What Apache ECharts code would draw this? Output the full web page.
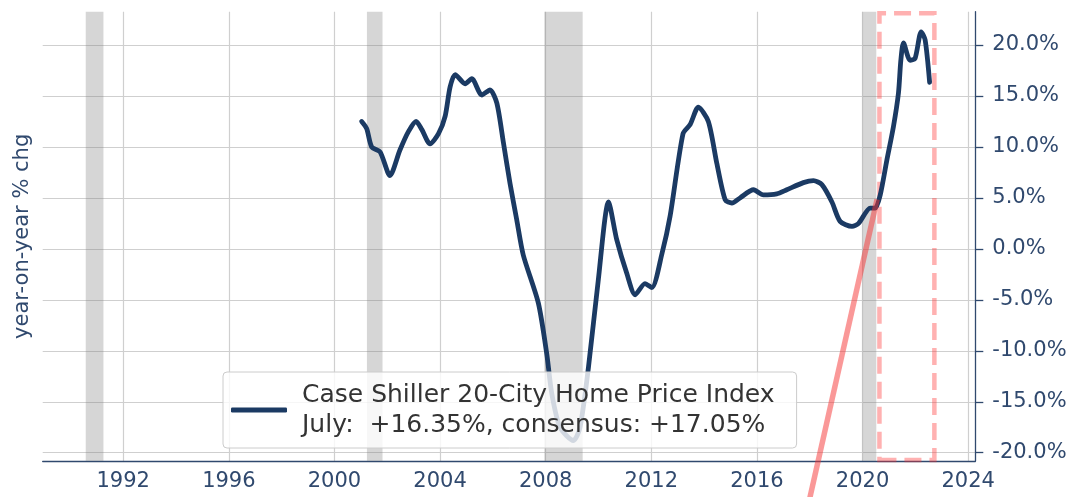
<!DOCTYPE html>
<html>
<head>
<meta charset="utf-8">
<script src="https://cdn.jsdelivr.net/npm/echarts@6/dist/echarts.min.js"></script>
<style>
  html, body { margin: 0; padding: 0; background: #fff; }
  #main { width: 1075px; height: 497px; }
</style>
</head>
<body>
<div id="main"></div>
<script>
// Case Shiller 20-city, yoy % chg
var years = [2001.03, 2001.22, 2001.41, 2001.73, 2002.10, 2002.48, 2002.80, 2003.09, 2003.31, 2003.62,
    2003.94, 2004.19, 2004.38, 2004.57, 2004.95, 2005.20, 2005.58, 2005.89, 2006.15, 2006.40,
    2006.65, 2006.90, 2007.15, 2007.72, 2008.04, 2008.23, 2008.54, 2009.05, 2009.30, 2009.62,
    2009.99, 2010.38, 2010.69, 2011.07, 2011.39, 2011.76, 2012.02, 2012.40, 2012.71, 2013.20,
    2013.47, 2013.78, 2014.16, 2014.48, 2014.80, 2015.05, 2015.36, 2015.87, 2016.24, 2016.75,
    2017.13, 2017.76, 2018.14, 2018.46, 2018.84, 2019.15, 2019.60, 2019.85, 2020.29, 2020.48,
    2020.67, 2020.92, 2021.17, 2021.36, 2021.45, 2021.55, 2021.80, 2021.99, 2022.22, 2022.37,
    2022.54];
var values = [12.5, 11.8, 10.0, 9.5, 7.2, 9.7, 11.5, 12.5, 11.7, 10.3,
    11.3, 13.0, 15.9, 17.1, 16.2, 16.7, 15.1, 15.6, 14.3, 10.4,
    6.4, 2.9, -0.6, -5.3, -10.3, -14.2, -17.5, -18.8, -17.5, -11.6,
    -3.1, 4.6, 0.9, -2.4, -4.5, -3.4, -3.8, -0.5, 3.2, 11.3,
    12.2, 13.9, 12.5, 8.4, 4.8, 4.5, 5.0, 5.8, 5.3, 5.4,
    5.8, 6.5, 6.7, 6.3, 4.6, 2.7, 2.2, 2.5, 4.0, 4.0,
    5.3, 8.7, 12.0, 15.3, 18.5, 20.2, 18.5, 18.7, 21.3, 20.5,
    16.35];

// recessions (start, end)
var recessions = [[1990.58, 1991.25], [2001.23, 2001.82], [2007.95, 2009.40], [2020.0, 2020.52]];

// highlight box and trend line
var boxX = [2020.64, 2022.72];
var boxY = [-20.72, 23.11];
var trendX = [2017.78, 2020.55];
var trendY = [-27, 4.86];

var xTicks = [1992, 1996, 2000, 2004, 2008, 2012, 2016, 2020, 2024];
var yTicks = [-20, -15, -10, -5, 0, 5, 10, 15, 20];

var seriesName = 'Case Shiller 20-City Home Price Index';
var subLine = 'July:  +16.35%, consensus: +17.05%';

var navy = '#1b3a63';
var axisColor = '#30496e';
var gridColor = '#cfcfcf';
var font = 'DejaVu Sans';

var myChart = echarts.init(document.getElementById('main'));

var lineData = years.map(function (y, i) { return [y, values[i]]; });
var trendData = trendX.map(function (x, i) { return [x, trendY[i]]; });

option = {
    animation: false,
    backgroundColor: '#fff',
    grid: { left: 42.7, right: 99.7, top: 11.7, bottom: 36 },
    legend: {
        data: [seriesName],
        left: 223,
        top: 372,
        orient: 'vertical',
        icon: 'roundRect',
        itemWidth: 56,
        itemHeight: 5,
        padding: [8, 22, 8, 8],
        backgroundColor: 'rgba(255,255,255,0.8)',
        borderColor: '#cccccc',
        borderWidth: 1,
        borderRadius: 4,
        formatter: function (name) { return name + '\n' + subLine; },
        textStyle: {
            fontFamily: font,
            fontSize: 25,
            lineHeight: 30,
            color: '#333',
            padding: [0, 0, 0, 10]
        }
    },
    xAxis: {
        type: 'value',
        min: 1988.95,
        max: 2024.27,
        axisLine: { show: true, onZero: false, lineStyle: { color: axisColor, width: 1.3 } },
        axisTick: { show: false, customValues: xTicks },
        axisLabel: {
            customValues: xTicks,
            color: axisColor,
            fontFamily: font,
            fontSize: 21,
            margin: 10,
            formatter: function (v) { return String(v); }
        },
        splitLine: { show: true, lineStyle: { color: gridColor, width: 1.2 } }
    },
    yAxis: [{
        type: 'value',
        position: 'right',
        min: -20.81,
        max: 23.27,
        axisLine: { show: true, lineStyle: { color: axisColor, width: 1.3 } },
        axisTick: { show: true, customValues: yTicks, length: 8, lineStyle: { color: axisColor, width: 1.3 } },
        axisLabel: {
            customValues: yTicks,
            color: axisColor,
            fontFamily: font,
            fontSize: 21,
            margin: 17,
            formatter: function (v) { return v.toFixed(1) + '%'; }
        },
        splitLine: { show: true, lineStyle: { color: gridColor, width: 1.2 } }
    }, {
        type: 'value',
        position: 'left',
        min: -20.81,
        max: 23.27,
        name: 'year-on-year % chg',
        nameLocation: 'middle',
        nameGap: 10,
        nameTextStyle: { color: axisColor, fontFamily: font, fontSize: 21 },
        axisLine: { show: false },
        axisTick: { show: false },
        axisLabel: { show: false },
        splitLine: { show: false }
    }],
    series: [
        {
            name: 'recessions',
            type: 'line',
            data: [],
            z: 1,
            silent: true,
            markArea: {
                silent: true,
                itemStyle: { color: 'rgba(128,128,128,0.32)' },
                data: recessions.map(function (r) { return [{ xAxis: r[0] }, { xAxis: r[1] }]; })
            }
        },
        {
            name: seriesName,
            type: 'line',
            data: lineData,
            z: 3,
            smooth: 0.25,
            showSymbol: false,
            itemStyle: { color: navy },
            lineStyle: { color: navy, width: 4.8, cap: 'round', join: 'round' }
        },
        {
            name: 'box',
            type: 'line',
            data: [],
            z: 4,
            silent: true,
            markArea: {
                silent: true,
                itemStyle: {
                    color: 'rgba(0,0,0,0)',
                    borderColor: 'rgba(255,50,50,0.38)',
                    borderWidth: 4.5,
                    borderType: [17, 8]
                },
                data: [[{ coord: [boxX[0], boxY[0]] }, { coord: [boxX[1], boxY[1]] }]]
            }
        },
        {
            name: 'trend',
            type: 'line',
            data: trendData,
            z: 5,
            clip: false,
            silent: true,
            showSymbol: false,
            lineStyle: { color: 'rgba(245,50,50,0.5)', width: 5.5 }
        }
    ]
};

myChart.setOption(option);
</script>
</body>
</html>
